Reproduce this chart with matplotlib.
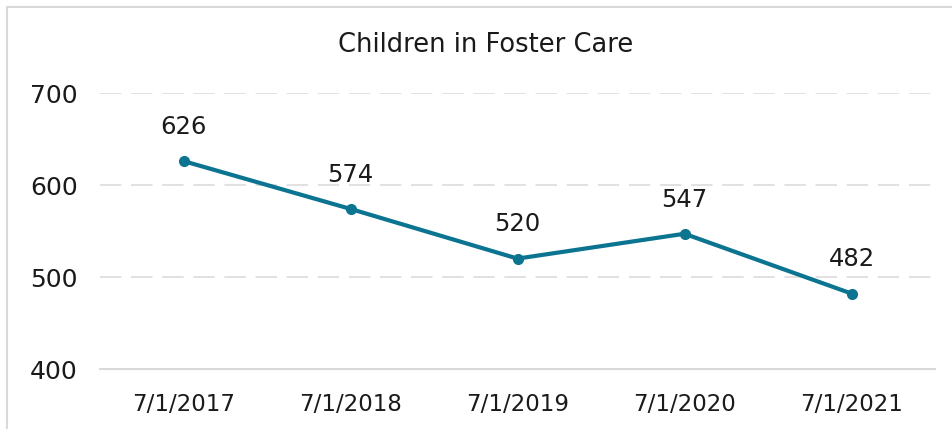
import matplotlib.pyplot as plt
from matplotlib.patches import Rectangle

# dane
dates = ['7/1/2017', '7/1/2018', '7/1/2019', '7/1/2020', '7/1/2021']
children = [626, 574, 520, 547, 482]
y_ticks = [400, 500, 600, 700]

line_color = '#0b7491'
grid_color = '#e3e0e2'

plt.rcParams['font.family'] = ['DejaVu Sans']

fig = plt.figure(figsize=(9.52, 4.29), dpi=100)
ax = fig.add_axes([100 / 952, 1 - 369 / 429, 835 / 952, 276 / 429])

x = list(range(len(dates)))
ax.plot(x, children, color=line_color, linewidth=3, marker='o', markersize=7,
        solid_capstyle='round', zorder=3)

for xi, v in zip(x, children):
    ax.annotate(str(v), (xi, v), xytext=(0, 16), textcoords='offset points',
                ha='center', va='bottom', fontsize=17.5, color='#1a1a1a')

ax.set_xlim(-0.5, len(dates) - 0.5)
ax.set_ylim(400, 700)
ax.set_xticks(x)
ax.set_xticklabels(dates)
ax.set_yticks(y_ticks)
ax.tick_params(axis='both', length=0, labelsize=16.5, labelcolor='#1a1a1a')
ax.tick_params(axis='x', pad=17)
ax.tick_params(axis='y', labelsize=18, pad=16)

for v in y_ticks[1:]:
    ax.axhline(v, color=grid_color, linewidth=1.4, linestyle=(0, (11, 5)), zorder=1)

for s in ['top', 'right', 'left']:
    ax.spines[s].set_visible(False)
ax.spines['bottom'].set_color('#d9d9d9')
ax.spines['bottom'].set_linewidth(1.5)

fig.text(486 / 952, 1 - 45 / 429, 'Children in Foster Care', ha='center', va='center',
         fontsize=18.5, color='#1a1a1a')

# ramka wykresu
fig.patches.append(Rectangle((7 / 952, -0.05), 1.1, 1 - 7 / 429 + 0.05,
                             transform=fig.transFigure, fill=False,
                             edgecolor='#d9d9d9', linewidth=1.5))

fig.savefig('out.png', dpi=100)
